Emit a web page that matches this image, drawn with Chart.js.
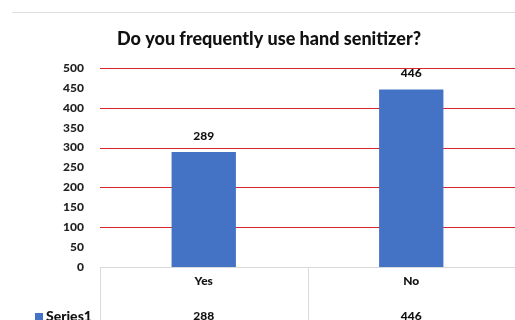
<!DOCTYPE html>
<html>
<head>
<meta charset="utf-8">
<script src="https://cdn.jsdelivr.net/npm/chart.js@4"></script>
<style>
  html, body { margin: 0; padding: 0; background: #fff; }
  #wrap { width: 515px; height: 320px; position: relative; }
</style>
</head>
<body>
<div id="wrap"><canvas id="chart"></canvas></div>
<script>
const categories = ['Yes', 'No']
const barValues = [289, 446]
const tableValues = [288, 446]
const seriesName = 'Series1'
const chartTitle = 'Do you frequently use hand senitizer?'
const redLines = [100, 200, 300, 400, 500]

const FONT = 'Lato, "Open Sans", sans-serif'
const blue = '#4472C4'
const red = '#d8262a'
const lineGray = '#d9d9d9'

// red grid lines behind the bars
const gridLines = {
  id: 'gridLines',
  beforeDatasetsDraw(chart) {
    const ctx = chart.ctx
    const y = chart.scales.y
    const area = chart.chartArea
    ctx.save()
    ctx.strokeStyle = red
    ctx.lineWidth = 1
    redLines.forEach(v => {
      const py = Math.round(y.getPixelForValue(v)) + 0.5
      ctx.beginPath()
      ctx.moveTo(area.left, py)
      ctx.lineTo(area.right, py)
      ctx.stroke()
    })
    ctx.restore()
  }
}

// title, top rule, value labels and the data table under the axis
const extras = {
  id: 'extras',
  afterDraw(chart) {
    const ctx = chart.ctx
    const x = chart.scales.x
    const area = chart.chartArea
    ctx.save()
    ctx.strokeStyle = '#dedede'
    ctx.lineWidth = 1
    ctx.beginPath()
    ctx.moveTo(12, 12.5)
    ctx.lineTo(515, 12.5)
    ctx.stroke()

    ctx.fillStyle = '#111'
    ctx.font = '900 18px ' + FONT
    ctx.textAlign = 'center'
    ctx.textBaseline = 'middle'
    ctx.fillText(chartTitle, 269, 39)

    // value labels
    const meta = chart.getDatasetMeta(0)
    ctx.font = '900 12px ' + FONT
    meta.data.forEach((bar, i) => {
      ctx.fillText(String(barValues[i]), bar.x, bar.y - 16)
    })

    // data table
    ctx.strokeStyle = lineGray
    ctx.beginPath()
    ctx.moveTo(area.left, area.bottom + 0.5)
    ctx.lineTo(area.right, area.bottom + 0.5)
    ctx.stroke()
    const half = (x.getPixelForValue(1) - x.getPixelForValue(0)) / 2
    categories.forEach((c, i) => {
      const px = Math.round(x.getPixelForValue(i) - half) + 0.5
      ctx.beginPath()
      ctx.moveTo(px, area.bottom)
      ctx.lineTo(px, 320)
      ctx.stroke()
    })
    ctx.fillStyle = '#111'
    categories.forEach((c, i) => {
      const px = x.getPixelForValue(i)
      ctx.fillText(c, px, 281)
      ctx.fillText(String(tableValues[i]), px, 316)
    })
    ctx.fillStyle = blue
    ctx.fillRect(35, 313, 8, 8)
    ctx.fillStyle = '#111'
    ctx.textAlign = 'left'
    ctx.font = '900 14px ' + FONT
    ctx.fillText(seriesName, 46, 316)
    ctx.restore()
  }
}

new Chart(document.getElementById('chart'), {
  type: 'bar',
  data: {
    labels: categories,
    datasets: [{
      label: seriesName,
      data: barValues,
      backgroundColor: blue,
      categoryPercentage: 1,
      barPercentage: 0.31
    }]
  },
  options: {
    responsive: true,
    maintainAspectRatio: false,
    animation: false,
    layout: { padding: { left: 0, top: 68, right: 0, bottom: 53 } },
    plugins: {
      legend: { display: false },
      title: { display: false },
      tooltip: { enabled: false }
    },
    scales: {
      x: {
        ticks: { display: false },
        grid: { display: false },
        border: { display: false },
        afterFit(scale) { scale.width = scale.width; scale.height = 0 }
      },
      y: {
        min: 0,
        max: 500,
        ticks: {
          stepSize: 50,
          padding: 16,
          color: '#222',
          font: { family: FONT, size: 12, weight: '900' }
        },
        grid: { display: false, drawTicks: false },
        border: { display: false },
        afterFit(scale) { scale.width = 100 }
      }
    }
  },
  plugins: [gridLines, extras]
})
</script>
</body>
</html>
